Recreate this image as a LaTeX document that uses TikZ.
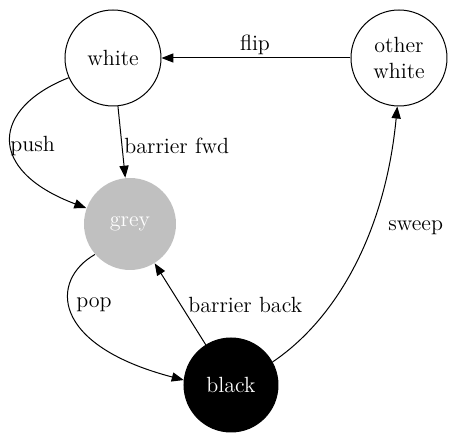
\documentclass[tikz,border=0pt]{standalone}
\usetikzlibrary{arrows.meta}
\begin{document}
\begin{tikzpicture}[x=0.5pt,y=-0.5pt,
  every node/.style={font=\fontsize{11}{12.8}\selectfont},
  state/.style={circle,draw,line width=0.5pt,minimum size=48pt,inner sep=0pt,align=center},
  edge/.style={line width=0.5pt,-{Triangle[length=6pt,width=4.6pt]}},
  lbl/.style={anchor=west,inner sep=0pt}]
\useasboundingbox (0,0) rectangle (463,438);
\node[state] (white) at (113,58) {white};
\node[state] (other) at (399,58) {other\\white};
\node[state,draw=none,fill={rgb,255:red,192;green,192;blue,192},text=white,minimum size=46pt] (grey) at (130,224) {grey};
\node[state,fill=black,text=white,minimum size=47pt] (black) at (231,385) {black};
\draw[edge] (other) -- (white);
\node[inner sep=0pt] (lflip) at (255,45) {flip};
\draw[edge] (white.204) .. controls (-8,108) and (-15,170) .. (grey.160);
\node[lbl] (lpush) at (10,146) {push};
\draw[edge] (white) -- (grey);
\node[lbl] (lfwd) at (124,146) {barrier fwd};
\draw[edge] (grey.221) .. controls (50,280) and (50,345) .. (black.174);
\node[lbl] (lpop) at (76,305) {pop};
\draw[edge] (black) -- (grey);
\node[lbl] (lback) at (188,305) {barrier back};
\draw[edge] (black.29) .. controls (335,320) and (385,235) .. (other.268);
\node[lbl] (lsweep) at (388,228) {sweep};
\end{tikzpicture}
\end{document}
